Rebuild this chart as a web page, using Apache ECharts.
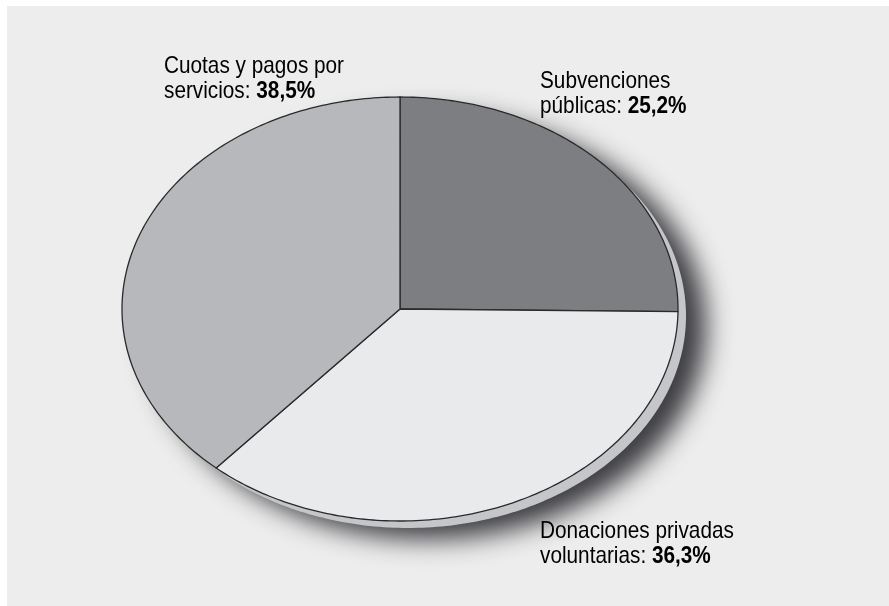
<!DOCTYPE html>
<html><head><meta charset="utf-8">
<script src="https://cdn.jsdelivr.net/npm/echarts@6/dist/echarts.min.js"></script>
<style>html,body{margin:0;padding:0;background:#fff}#c{width:889px;height:606px}</style>
</head><body><div id="c"></div>
<script>
// ---- data ----
const categories = ['Subvenciones\npúblicas', 'Donaciones privadas\nvoluntarias', 'Cuotas y pagos por\nservicios'];
const values = [25.2, 36.3, 38.5];
const valueLabels = ['25,2%', '36,3%', '38,5%'];

// ---- layout / style ----
const colors = ['#7d7e82', '#e9eaec', '#b7b8bc'];
const labelPos = [[540, 69], [540, 519], [164, 54]];
const CX = 400, CY = 309, RX = 278, RY = 212;
const FONT = '"Liberation Sans", Arial, sans-serif';

const total = values.reduce((a, b) => a + b, 0);
function ellPt(t, dx, dy) { return [CX + (dx || 0) + RX * Math.sin(t), CY + (dy || 0) - RY * Math.cos(t)]; }
function ellipsePoints(dx, dy) {
  const pts = [];
  for (let i = 0; i < 360; i++) pts.push(ellPt(i / 360 * Math.PI * 2, dx, dy));
  return pts;
}

const chart = echarts.init(document.getElementById('c'), null, { renderer: 'canvas' });
chart.setOption({
  animation: false,
  graphic: [{ type: 'rect', z: -10, shape: { x: 7, y: 6, width: 882, height: 600 }, style: { fill: '#ededed' } }],
  series: [
    {
      type: 'custom', coordinateSystem: 'none', z: 1, silent: true,
      data: [[0]],
      renderItem: function () {
        return {
          type: 'polygon',
          shape: { points: ellipsePoints(8, 7) },
          style: { fill: '#c5c6ca', shadowColor: 'rgba(40,40,45,0.9)', shadowBlur: 26, shadowOffsetX: 20, shadowOffsetY: 11 }
        };
      }
    },
    {
      type: 'custom', coordinateSystem: 'none', z: 2, silent: true,
      data: values.map((v, i) => ({ value: [v], name: categories[i] })),
      renderItem: function (params, api) {
        const i = params.dataIndex;
        let before = 0;
        for (let k = 0; k < i; k++) before += values[k];
        const t0 = before / total * Math.PI * 2;
        const t1 = (before + api.value(0)) / total * Math.PI * 2;
        const n = Math.max(8, Math.ceil((t1 - t0) / (Math.PI * 2) * 400));
        const pts = [[CX, CY]];
        for (let s = 0; s <= n; s++) pts.push(ellPt(t0 + (t1 - t0) * s / n));
        const lines = categories[i].split('\n');
        let txt = lines.map((l, j) => j < lines.length - 1 ? '{n|' + l + '}' : '{n|' + l + ': }{b|' + valueLabels[i] + '}').join('\n');
        return {
          type: 'group',
          children: [
            { type: 'polygon', shape: { points: pts }, style: { fill: colors[i], stroke: '#2a2a2a', lineWidth: 1.3, lineJoin: 'round' } },
            {
              type: 'text', x: labelPos[i][0], y: labelPos[i][1], scaleX: 0.865,
              style: {
                text: txt, align: 'left', verticalAlign: 'top',
                rich: {
                  n: { fontFamily: FONT, fontSize: 24, lineHeight: 25, color: '#231f20' },
                  b: { fontFamily: FONT, fontSize: 24, lineHeight: 25, fontWeight: 'bold', color: '#231f20' }
                }
              }
            }
          ]
        };
      }
    }
  ]
});
</script></body></html>
